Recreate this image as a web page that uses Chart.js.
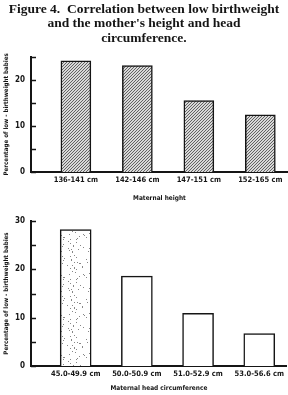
<!DOCTYPE html>
<html>
<head>
<meta charset="utf-8">
<script src="https://cdn.jsdelivr.net/npm/chart.js@4.4.0/dist/chart.umd.min.js"></script>
<style>
  body { margin: 0; background: #fff; }
  #top { position: absolute; left: 0; top: 0; width: 288px; height: 205px; }
  #bottom { position: absolute; left: 0; top: 205px; width: 288px; height: 190px; }
</style>
</head>
<body>
<div id="top"><canvas id="heightChart"></canvas></div>
<div id="bottom"><canvas id="headChart"></canvas></div>
<script>
// data
const heightLabels = ['136-141 cm', '142-146 cm', '147-151 cm', '152-165 cm'];
const heightValues = [24.1, 23.1, 15.5, 12.4];
const headLabels = ['45.0-49.9 cm', '50.0-50.9 cm', '51.0-52.9 cm', '53.0-56.6 cm'];
const headValues = [28.2, 18.6, 10.9, 6.7];
const titleLines = ['Figure 4.  Correlation between low birthweight', 'and the mother\'s height and head', 'circumference.'];
const yTitle = 'Percentage of low - birthweight babies';

const ink = '#151515';
const narrow = "'Liberation Sans Narrow', 'DejaVu Sans Condensed', sans-serif";

// hatched fill for the height bars
function hatchPattern() {
    const c = document.createElement('canvas');
    c.width = 3; c.height = 3;
    const g = c.getContext('2d');
    g.fillStyle = '#d8d8d8';
    g.fillRect(0, 0, 3, 3);
    g.strokeStyle = '#555';
    g.lineWidth = 0.9;
    g.beginPath();
    g.moveTo(0, 3); g.lineTo(3, 0);
    g.moveTo(-1, 1); g.lineTo(1, -1);
    g.moveTo(2, 4); g.lineTo(4, 2);
    g.stroke();
    return g.createPattern(c, 'repeat');
}

// stippled fill for the first head bar
function stipplePattern() {
    const c = document.createElement('canvas');
    c.width = 30; c.height = 40;
    const g = c.getContext('2d');
    g.fillStyle = '#fff';
    g.fillRect(0, 0, 30, 40);
    g.fillStyle = '#888';
    let s = 7;
    for (let i = 0; i < 60; i++) {
        s = (s * 73 + 41) % 1009;
        const px = s % 30;
        s = (s * 73 + 41) % 1009;
        const py = s % 40;
        g.fillRect(px, py, 1, 1);
    }
    return g.createPattern(c, 'repeat');
}

// short tick marks pointing into the plot
const innerTicks = {
    id: 'innerTicks',
    afterDraw(chart) {
        const y = chart.scales.y;
        const ctx = chart.ctx;
        const left = chart.chartArea.left;
        ctx.save();
        ctx.strokeStyle = ink;
        ctx.lineWidth = 1.5;
        y.ticks.forEach(t => {
            const py = Math.round(y.getPixelForValue(t.value)) + 0.5;
            ctx.beginPath();
            ctx.moveTo(left, py);
            ctx.lineTo(left + 5, py);
            ctx.stroke();
        });
        ctx.restore();
    }
};

function makeOptions(labels, yMax, xTitle, xHeight, withTitle) {
    return {
        responsive: true,
        maintainAspectRatio: false,
        animation: false,
        layout: { padding: { top: withTitle ? 0 : 16, left: 0, right: 0, bottom: 0 } },
        plugins: {
            legend: { display: false },
            tooltip: { enabled: false },
            title: {
                display: withTitle,
                text: titleLines,
                color: ink,
                font: { family: "'Liberation Serif', serif", size: 13.5, weight: 'bold', lineHeight: 1.08 },
                padding: { top: 2, bottom: 11 }
            }
        },
        scales: {
            x: {
                type: 'linear',
                min: 0.27,
                max: 4.45,
                offset: false,
                afterBuildTicks: s => { s.ticks = labels.map((l, i) => ({ value: i + 1 })); },
                afterFit: s => { s.height = xHeight; },
                ticks: {
                    callback: v => labels[v - 1],
                    autoSkip: false,
                    maxRotation: 0,
                    padding: 4,
                    color: ink,
                    font: { family: narrow, size: 7.5, weight: 'bold' }
                },
                grid: { display: false, drawTicks: false, offset: false },
                border: { display: true, color: ink, width: 2 },
                title: {
                    display: true,
                    text: xTitle,
                    color: ink,
                    font: { family: narrow, size: 6.5, weight: 'bold' },
                    padding: { top: 0, bottom: 3 }
                }
            },
            y: {
                min: 0,
                max: yMax,
                afterFit: s => { s.width = 31; },
                ticks: {
                    stepSize: 5,
                    callback: v => (v % 10 === 0 ? v : ''),
                    padding: 6,
                    color: ink,
                    font: { family: narrow, size: 8, weight: 'bold' }
                },
                grid: { display: false, drawTicks: false },
                border: { display: true, color: ink, width: 2 },
                title: {
                    display: true,
                    text: yTitle,
                    color: ink,
                    font: { family: narrow, size: 6.2, weight: 'bold' },
                    padding: { top: 3, bottom: 0 }
                }
            }
        }
    };
}

const heightCtx = document.getElementById('heightChart').getContext('2d');
new Chart(heightCtx, {
    type: 'bar',
    data: {
        datasets: [{
            data: heightValues.map((v, i) => ({ x: i + 1, y: v })),
            backgroundColor: hatchPattern(),
            borderColor: ink,
            borderWidth: 1.5,
            barThickness: 30
        }]
    },
    options: makeOptions(heightLabels, 25, 'Maternal height', 33, true),
    plugins: [innerTicks]
});

const headCtx = document.getElementById('headChart').getContext('2d');
const white = headValues.map(() => '#fff');
white[0] = stipplePattern();
new Chart(headCtx, {
    type: 'bar',
    data: {
        datasets: [{
            data: headValues.map((v, i) => ({ x: i + 1, y: v })),
            backgroundColor: white,
            borderColor: ink,
            borderWidth: 1.5,
            barThickness: 31
        }]
    },
    options: makeOptions(headLabels, 30, 'Maternal head circumference', 29, false),
    plugins: [innerTicks]
});
</script>
</body>
</html>
